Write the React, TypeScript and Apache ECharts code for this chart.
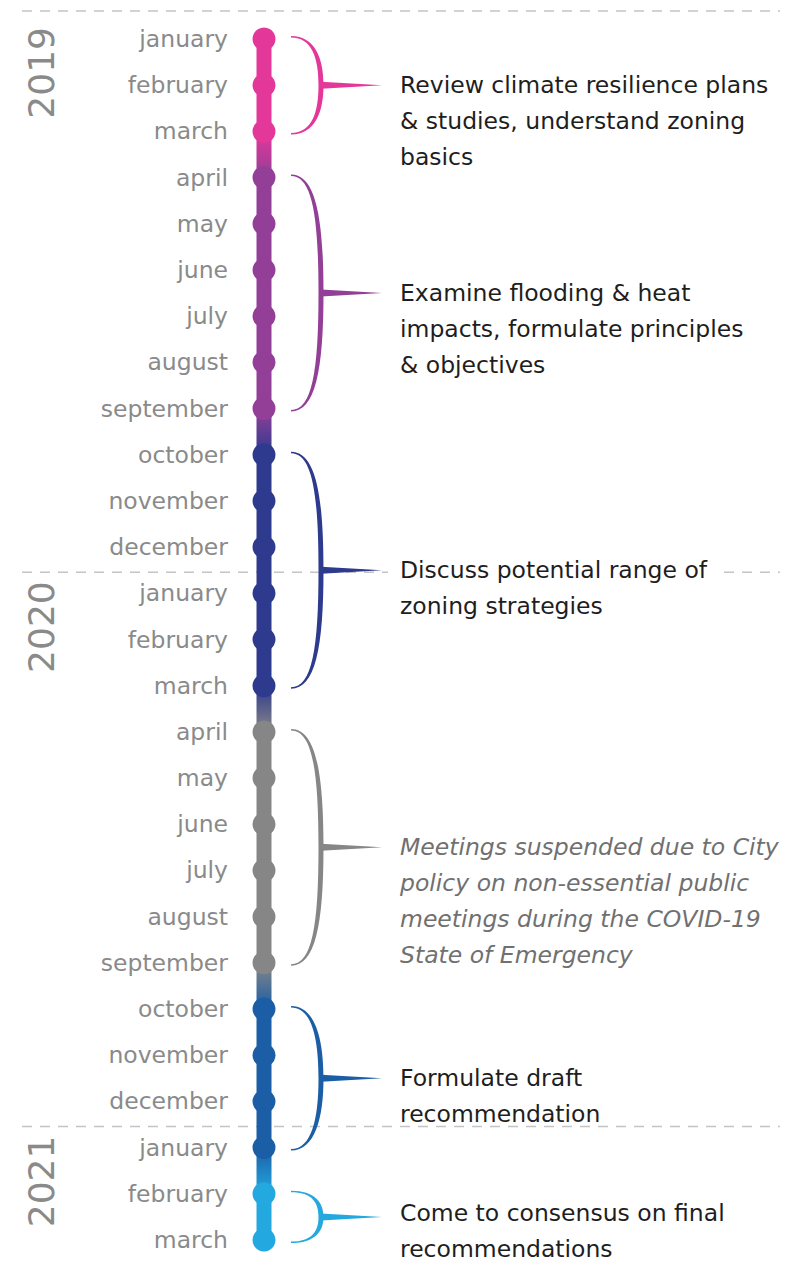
import React, { useEffect, useRef } from "react";
import * as echarts from "echarts";

const months = [
  "january", "february", "march", "april", "may", "june", "july", "august", "september",
  "october", "november", "december",
  "january", "february", "march", "april", "may", "june", "july", "august", "september",
  "october", "november", "december",
  "january", "february", "march",
];
const phaseOfMonth = [0, 0, 0, 1, 1, 1, 1, 1, 1, 2, 2, 2, 2, 2, 2, 3, 3, 3, 3, 3, 3, 4, 4, 4, 4, 5, 5];
const phaseColors = ["#E4379A", "#933F98", "#2E3A8E", "#868686", "#1B5EA6", "#24A8E0"];
const phaseStart = [0, 3, 9, 15, 21, 25];
const phaseEnd = [2, 8, 14, 20, 24, 26];
const phaseLines = [
  ["Review climate resilience plans", "& studies, understand zoning", "basics"],
  ["Examine flooding & heat", "impacts, formulate principles", "& objectives"],
  ["Discuss potential range of", "zoning strategies"],
  ["Meetings suspended due to City", "policy on non-essential public", "meetings during the COVID-19", "State of Emergency"],
  ["Formulate draft", "recommendation"],
  ["Come to consensus on final", "recommendations"],
];
const phaseItalic = [false, false, false, true, false, false];
const years = ["2019", "2020", "2021"];
const yearStartIdx = [0, 12, 24];

const FONT = "DejaVu Sans";

export default function App() {
  const ref = useRef<HTMLDivElement>(null);
  useEffect(() => {
    if (!ref.current) return;
    const chart = echarts.init(ref.current, null, { renderer: "svg" });

    const segData = months.slice(0, -1).map((_, i) => [0, i, phaseOfMonth[i], phaseOfMonth[i + 1]]);
    const dotData = months.map((_, i) => ({
      value: [0, i],
      itemStyle: { color: phaseColors[phaseOfMonth[i]], opacity: 1 },
    }));
    const bracketData = phaseStart.map((s, p) => [0, s, phaseEnd[p], p]);
    const yearData = yearStartIdx.map((s, k) => [0, s, k]);

    chart.setOption({
      animation: false,
      grid: { left: 264, right: 500, top: 39, bottom: 25 },
      xAxis: { type: "value", min: 0, max: 1, show: false },
      yAxis: {
        type: "category",
        data: months,
        inverse: true,
        boundaryGap: false,
        axisLine: { show: false },
        axisTick: { show: false },
        splitLine: { show: false },
        axisLabel: { margin: 36, fontSize: 23.5, color: "#8a8a8a", fontFamily: FONT },
      },
      series: [
        {
          type: "custom",
          z: 1,
          data: yearData,
          encode: { x: 0, y: 1 },
          renderItem: (params: any, api: any) => {
            const idx = api.value(1);
            const k = api.value(2);
            const p = api.coord([0, idx]);
            const step = api.size([0, 1])[1];
            const dashY = k === 0 ? p[1] - step / 2 - 5 : p[1] - step / 2 + 2;
            const W = api.getWidth();
            return {
              type: "group",
              children: [
                {
                  type: "line",
                  shape: { x1: 22, y1: dashY, x2: W - 11, y2: dashY },
                  style: { stroke: "#c4c4c4", lineWidth: 1.5, lineDash: [10, 8] },
                },
                {
                  type: "text",
                  x: 41,
                  y: p[1] - 12,
                  rotation: Math.PI / 2,
                  style: {
                    text: years[k],
                    fill: "#8a8a8a",
                    fontSize: 36,
                    fontFamily: FONT,
                    align: "right",
                    verticalAlign: "middle",
                  },
                },
              ],
            };
          },
        },
        {
          type: "custom",
          z: 2,
          data: segData,
          encode: { x: 0, y: 1 },
          renderItem: (params: any, api: any) => {
            const i = api.value(1);
            const a = api.value(2);
            const b = api.value(3);
            const p1 = api.coord([0, i]);
            const p2 = api.coord([0, i + 1]);
            const fill =
              a === b
                ? phaseColors[a]
                : new echarts.graphic.LinearGradient(0, 0, 0, 1, [
                    { offset: 0, color: phaseColors[a] },
                    { offset: 1, color: phaseColors[b] },
                  ]);
            return {
              type: "rect",
              shape: { x: p1[0] - 7.5, y: p1[1], width: 15, height: p2[1] - p1[1] },
              style: { fill },
            };
          },
        },
        {
          type: "scatter",
          z: 3,
          symbol: "circle",
          symbolSize: 23,
          itemStyle: { opacity: 1 },
          data: dotData,
        },
        {
          type: "custom",
          z: 4,
          data: bracketData,
          encode: { x: 0, y: 1 },
          renderItem: (params: any, api: any) => {
            const s = api.value(1);
            const e = api.value(2);
            const ph = api.value(3);
            const pS = api.coord([0, s]);
            const pE = api.coord([0, e]);
            const cx = pS[0];
            const y1 = pS[1] - 3;
            const y2 = pE[1] + 3;
            const ym = (pS[1] + pE[1]) / 2;
            const x0 = cx + 27;
            const xm = cx + 57;
            const half = ym - y1;
            const a = Math.min(half * 0.45, 40);
            const d = xm - x0;
            const t = 2.5;
            const col = phaseColors[ph];
            const pathData =
              `M${x0},${y1} ` +
              `C${x0 + 0.8 * d},${y1} ${xm + t},${y1 + a} ${xm + t},${ym} ` +
              `C${xm + t},${y2 - a} ${x0 + 0.8 * d},${y2} ${x0},${y2} ` +
              `L${x0},${y2 - 1.5} ` +
              `C${x0 + 0.7 * d},${y2 - 1.5} ${xm - t},${y2 - a} ${xm - t},${ym} ` +
              `C${xm - t},${y1 + a} ${x0 + 0.7 * d},${y1 + 1.5} ${x0},${y1 + 1.5} Z`;
            const spike = `M${xm},${ym - 3.5} L${cx + 118},${ym} L${xm},${ym + 3.5} Z`;
            const lh = 36;
            const italic = phaseItalic[ph];
            const lines: string[] = phaseLines[ph];
            const lastY = ym + (lines.length - 1) * lh;
            const limit = api.getHeight() - 16;
            const shift = Math.min(0, limit - lastY);
            const children: any[] = [
              { type: "path", shape: { pathData }, style: { fill: col } },
              { type: "path", shape: { pathData: spike }, style: { fill: col } },
            ];
            lines.forEach((ln, j) => {
              const style: any = {
                text: ln,
                fill: italic ? "#707070" : "#1e1e1e",
                fontSize: 23.5,
                fontFamily: FONT,
                fontStyle: italic ? "italic" : "normal",
                align: "left",
                verticalAlign: "middle",
              };
              if (ph === 2) {
                style.backgroundColor = "#ffffff";
                style.padding = [0, 12, 0, 12];
              }
              children.push({
                type: "text",
                x: ph === 2 ? cx + 136 - 12 : cx + 136,
                y: ym + j * lh + shift,
                style,
              });
            });
            return { type: "group", children };
          },
        },
      ],
    });
    return () => chart.dispose();
  }, []);
  return (
    <div
      ref={ref}
      style={{ position: "absolute", left: 0, top: 0, width: 791, height: 1265, background: "#fff" }}
    />
  );
}
